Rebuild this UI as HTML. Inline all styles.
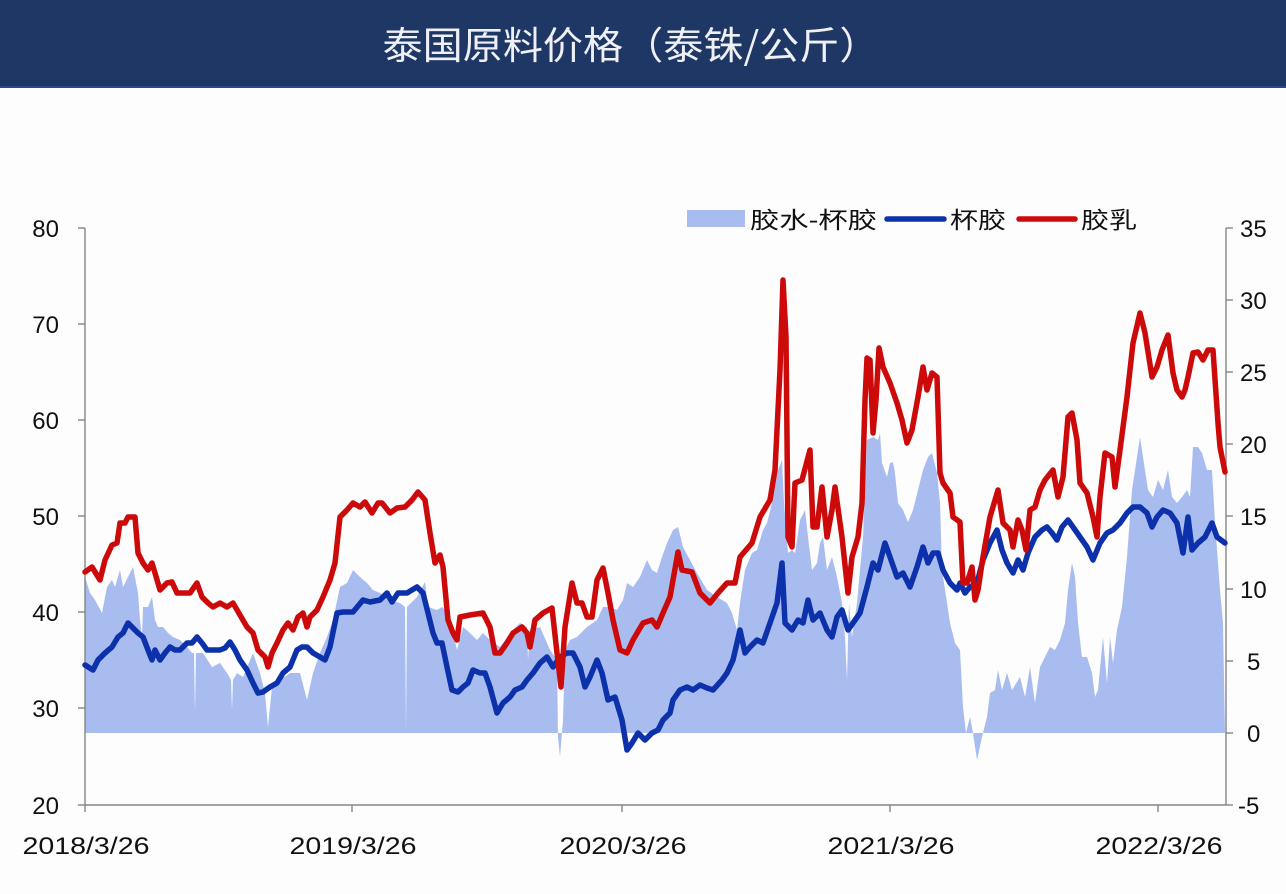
<!DOCTYPE html>
<html><head><meta charset="utf-8"><style>
html,body{margin:0;padding:0;background:#fdfdfe;}
svg{display:block;}
text{font-family:"Liberation Sans","Noto Sans CJK SC",sans-serif;}
</style></head><body>
<svg width="1286" height="894" viewBox="0 0 1286 894" xmlns="http://www.w3.org/2000/svg">
<rect x="0" y="0" width="1286" height="894" fill="#fdfdfe"/>
<rect x="0" y="0" width="1286" height="88" fill="#1f3765"/>
<rect x="0" y="86" width="1286" height="2" fill="#2b4a80"/>
<text x="631" y="59" font-size="38" fill="#eef0f5" text-anchor="middle" textLength="497" lengthAdjust="spacingAndGlyphs" style="font-family:'Noto Sans CJK SC','Liberation Sans',sans-serif;">泰国原料价格（泰铢/公斤）</text>

<!-- area -->
<polygon fill="#a8bcf0" points="85,733 85,577 90,593 95,600 102,613 107,587 112,580 115,587 120,570 123,587 128,577 133,567 138,593 140,620 142,637 143,607 148,607 152,597 155,620 158,627 163,627 168,633 173,637 180,640 187,647 192,653 194,653 195,713 196,653 203,653 212,667 220,663 227,673 231,680 232,710 233,680 237,673 243,677 253,653 260,673 265,693 268,727 272,687 280,680 290,673 300,673 307,700 313,673 320,653 327,637 333,620 340,587 347,583 353,570 360,577 367,583 373,590 380,593 390,600 400,603 405,607 406,730 407,607 417,597 425,582 428,607 437,610 442,607 448,613 457,650 463,627 470,633 477,640 483,633 490,640 500,647 510,633 520,623 527,627 528,660 530,630 540,627 550,650 557,660 558,737 560,757 563,720 565,650 570,640 577,637 587,627 597,620 603,607 610,607 617,610 623,600 627,583 633,587 640,577 647,560 652,570 657,573 662,557 667,543 673,530 678,527 683,547 690,560 697,573 707,590 717,597 727,603 732,613 737,630 740,603 745,570 752,553 757,550 763,530 767,523 772,503 775,487 778,470 782,460 784,503 788,553 792,550 795,553 800,520 805,510 808,537 812,570 817,563 820,543 823,537 827,570 832,557 837,577 842,603 845,637 847,680 849,603 852,637 857,603 860,570 863,537 867,440 873,437 878,440 880,433 882,463 887,477 890,463 893,462 895,473 898,503 903,510 908,522 913,510 918,490 923,470 928,457 932,453 937,473 940,503 942,570 947,603 950,623 955,643 960,650 963,707 966,733 970,717 973,733 977,760 982,737 987,717 990,693 995,690 998,670 1002,690 1007,673 1012,690 1020,677 1025,697 1030,667 1035,703 1040,667 1045,657 1050,647 1055,650 1060,640 1065,623 1068,590 1072,563 1075,577 1078,623 1082,657 1087,657 1092,673 1095,697 1098,690 1103,637 1107,683 1110,637 1113,663 1117,630 1122,607 1127,557 1132,490 1137,457 1140,437 1143,457 1148,490 1153,497 1158,480 1163,490 1168,470 1172,497 1177,503 1182,497 1187,490 1190,497 1193,447 1198,447 1202,453 1207,470 1212,470 1215,523 1220,590 1223,623 1225,733"/>

<!-- axes -->
<g stroke="#858585" stroke-width="1.4" fill="none">
<line x1="85" y1="228" x2="85" y2="805"/>
<line x1="1226" y1="228" x2="1226" y2="805"/>
<line x1="85" y1="805" x2="1226" y2="805"/>
<line x1="78" y1="228" x2="85" y2="228"/>
<line x1="78" y1="324" x2="85" y2="324"/>
<line x1="78" y1="420" x2="85" y2="420"/>
<line x1="78" y1="516" x2="85" y2="516"/>
<line x1="78" y1="612" x2="85" y2="612"/>
<line x1="78" y1="708" x2="85" y2="708"/>
<line x1="78" y1="805" x2="85" y2="805"/>
<line x1="1226" y1="228" x2="1233" y2="228"/>
<line x1="1226" y1="300" x2="1233" y2="300"/>
<line x1="1226" y1="372" x2="1233" y2="372"/>
<line x1="1226" y1="444" x2="1233" y2="444"/>
<line x1="1226" y1="516" x2="1233" y2="516"/>
<line x1="1226" y1="589" x2="1233" y2="589"/>
<line x1="1226" y1="661" x2="1233" y2="661"/>
<line x1="1226" y1="733" x2="1233" y2="733"/>
<line x1="1226" y1="805" x2="1233" y2="805"/>
<line x1="85" y1="805" x2="85" y2="812"/>
<line x1="352" y1="805" x2="352" y2="812"/>
<line x1="622" y1="805" x2="622" y2="812"/>
<line x1="890" y1="805" x2="890" y2="812"/>
<line x1="1158" y1="805" x2="1158" y2="812"/>
</g>

<!-- blue line -->
<polyline fill="none" stroke="#0c31aa" stroke-width="5.5" stroke-linejoin="round" stroke-linecap="round" points="85,665 93,670 98,660 105,653 112,647 118,637 123,633 128,623 133,628 138,633 143,637 148,650 152,660 155,650 160,660 165,653 170,647 175,650 180,650 187,643 192,643 197,637 202,643 207,650 213,650 220,650 225,648 230,642 235,650 240,660 247,670 253,683 258,693 263,692 270,687 277,683 283,673 290,667 297,650 302,647 307,647 313,653 320,657 325,660 330,647 337,613 343,612 353,612 363,600 370,602 380,600 387,593 392,602 398,593 407,593 417,587 423,593 428,613 433,633 437,643 442,643 447,667 452,690 458,692 463,687 468,683 473,670 480,673 485,673 490,687 497,713 503,703 510,697 515,690 522,687 527,680 533,673 540,663 547,657 553,667 560,657 567,653 573,653 580,667 585,687 590,677 597,660 602,673 608,700 615,697 622,720 627,750 632,743 638,733 645,740 652,733 658,730 663,720 670,713 673,700 680,690 687,687 693,690 700,685 707,688 713,690 722,680 727,673 733,660 740,630 745,653 750,647 757,640 763,643 770,623 777,603 782,563 785,623 792,630 798,620 803,623 808,600 813,620 820,613 827,630 832,637 837,617 842,610 848,630 853,623 860,613 867,587 873,563 878,570 885,543 890,557 897,577 903,573 910,587 917,567 923,547 928,563 933,553 938,553 943,570 950,583 957,590 960,583 965,593 970,587 977,583 983,560 990,543 997,530 1002,550 1007,563 1013,573 1018,560 1023,570 1028,553 1035,537 1042,530 1047,527 1052,533 1057,540 1062,527 1068,520 1073,527 1080,537 1087,547 1093,560 1100,543 1107,533 1113,530 1120,523 1127,513 1133,507 1140,507 1147,513 1152,527 1157,517 1163,510 1170,513 1177,523 1183,553 1188,517 1192,550 1198,543 1205,537 1212,523 1217,537 1225,543"/>

<!-- red line -->
<polyline fill="none" stroke="#cc0a0a" stroke-width="5.5" stroke-linejoin="round" stroke-linecap="round" points="85,572 92,567 100,580 105,560 112,545 117,543 120,523 125,523 128,517 135,517 138,553 143,563 148,570 152,563 155,573 160,590 167,583 172,582 177,593 182,593 190,593 197,583 202,597 208,603 213,607 220,603 227,607 233,603 240,615 247,627 253,633 258,650 265,657 268,667 272,653 277,643 283,630 288,623 293,630 298,617 303,613 307,627 310,617 317,610 323,597 330,580 335,563 340,517 347,510 353,503 360,507 365,502 372,513 378,503 382,503 390,513 397,508 405,507 412,500 418,492 425,500 430,533 435,563 440,555 443,567 448,620 453,633 457,640 460,617 470,615 483,613 490,627 495,653 500,653 507,643 513,633 522,627 527,633 530,647 535,620 543,613 552,608 557,653 561,687 565,627 572,583 577,603 582,603 587,617 592,617 597,580 603,568 608,593 613,620 620,650 627,653 633,640 643,623 652,620 657,627 663,613 670,597 678,552 682,570 692,572 700,593 710,603 718,593 727,583 735,583 740,557 752,543 760,517 770,500 775,470 780,370 783,280 786,337 788,537 792,547 795,483 802,480 810,450 813,527 817,527 822,487 827,537 832,510 835,487 842,537 848,593 852,557 858,537 862,503 865,400 867,358 870,360 873,433 876,400 879,348 883,367 890,383 897,403 902,420 907,443 912,430 918,397 923,367 927,390 932,373 937,377 940,473 943,483 950,493 953,517 960,522 963,583 967,583 972,567 975,600 978,590 983,557 990,517 998,490 1003,523 1010,530 1013,547 1018,520 1022,530 1026,550 1030,510 1035,507 1040,490 1045,480 1053,470 1058,497 1063,477 1068,417 1072,413 1077,440 1080,483 1087,493 1093,517 1097,537 1100,497 1105,453 1112,457 1115,487 1120,450 1127,397 1133,343 1140,313 1145,333 1152,377 1157,367 1162,350 1168,335 1173,373 1177,390 1182,397 1185,390 1188,377 1193,353 1198,352 1203,360 1208,350 1213,350 1218,423 1220,447 1225,472"/>

<!-- left labels -->
<g font-size="24" fill="#111" text-anchor="end">
<text x="59" y="237">80</text>
<text x="59" y="333">70</text>
<text x="59" y="429">60</text>
<text x="59" y="525">50</text>
<text x="59" y="621">40</text>
<text x="59" y="717">30</text>
<text x="59" y="814">20</text>
</g>
<!-- right labels -->
<g font-size="24" fill="#111" text-anchor="start">
<text x="1240" y="237">35</text>
<text x="1240" y="309">30</text>
<text x="1240" y="381">25</text>
<text x="1240" y="453">20</text>
<text x="1240" y="525">15</text>
<text x="1240" y="598">10</text>
<text x="1247" y="670">5</text>
<text x="1247" y="742">0</text>
<text x="1238" y="814">-5</text>
</g>
<!-- x labels -->
<g font-size="24" fill="#111" text-anchor="middle">
<text x="86" y="854" textLength="127" lengthAdjust="spacingAndGlyphs">2018/3/26</text>
<text x="353" y="854" textLength="127" lengthAdjust="spacingAndGlyphs">2019/3/26</text>
<text x="623" y="854" textLength="127" lengthAdjust="spacingAndGlyphs">2020/3/26</text>
<text x="891" y="854" textLength="127" lengthAdjust="spacingAndGlyphs">2021/3/26</text>
<text x="1159" y="854" textLength="127" lengthAdjust="spacingAndGlyphs">2022/3/26</text>
</g>

<!-- legend -->
<rect x="687" y="210" width="58" height="17" fill="#a8bcf0"/>
<text x="750" y="228" font-size="23" fill="#111" textLength="127" lengthAdjust="spacingAndGlyphs">胶水-杯胶</text>
<line x1="887" y1="219" x2="944" y2="219" stroke="#0c31aa" stroke-width="5.5" stroke-linecap="round"/>
<text x="950" y="228" font-size="23" fill="#111" textLength="56" lengthAdjust="spacingAndGlyphs">杯胶</text>
<line x1="1019" y1="219" x2="1075" y2="219" stroke="#cc0a0a" stroke-width="5.5" stroke-linecap="round"/>
<text x="1081" y="228" font-size="23" fill="#111" textLength="56" lengthAdjust="spacingAndGlyphs">胶乳</text>
</svg>
</body></html>
